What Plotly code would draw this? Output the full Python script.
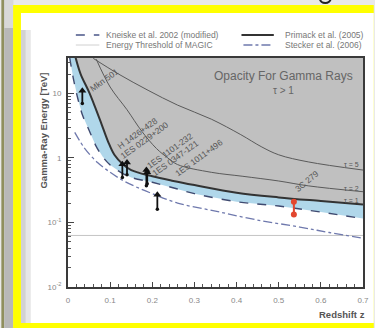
import math
import plotly.graph_objects as go

# ---------------- data ----------------
# Primack et al. (2005), tau = 1 horizon
primack_z = [0.018, 0.03, 0.05, 0.065, 0.08, 0.095, 0.11, 0.13, 0.15, 0.2, 0.25, 0.3, 0.4, 0.5, 0.6, 0.7]
primack_E = [36, 20, 10.5, 6.0, 3.3, 1.8, 1.12, 0.8, 0.65, 0.52, 0.44, 0.38, 0.29, 0.245, 0.215, 0.19]

# Kneiske et al. 2002 (modified)
kneiske_z = [0.004, 0.012, 0.024, 0.035, 0.05, 0.065, 0.082, 0.1, 0.125, 0.15, 0.2, 0.26, 0.3, 0.4, 0.5, 0.6, 0.7]
kneiske_E = [36, 18, 8.0, 4.5, 2.7, 1.6, 1.05, 0.78, 0.6, 0.5, 0.42, 0.33, 0.28, 0.21, 0.18, 0.145, 0.115]

# Stecker et al. (2006)
stecker_z = [0.016, 0.04, 0.07, 0.1, 0.13, 0.16, 0.2, 0.26, 0.35, 0.447, 0.55, 0.62, 0.7]
stecker_E = [2.5, 1.4, 0.85, 0.6, 0.45, 0.36, 0.28, 0.2, 0.15, 0.11, 0.085, 0.07, 0.057]

# tau = 5 and tau = 2 contours
tau5_z = [0.06, 0.12, 0.19, 0.26, 0.34, 0.41, 0.46, 0.5, 0.57, 0.7]
tau5_E = [35, 20, 11.2, 6.6, 4.0, 2.3, 1.48, 1.12, 0.87, 0.65]
tau2_z = [0.067, 0.1, 0.14, 0.175, 0.21, 0.237, 0.26, 0.34, 0.415, 0.5, 0.57, 0.7]
tau2_E = [34, 12.6, 5.6, 2.6, 1.4, 1.0, 0.79, 0.6, 0.52, 0.44, 0.37, 0.3]

# MAGIC energy threshold [TeV]
magic_threshold = 0.063

# observed sources: redshift, lower and upper energy of the arrows
source_names = ["Mkn 501", "H 1426+428", "1ES 0229+200", "1ES 1101-232", "1ES 0347-121", "1ES 1011+496"]
source_z = [0.034, 0.129, 0.14, 0.186, 0.188, 0.212]
source_lo = [7.0, 0.5, 0.55, 0.37, 0.4, 0.16]
source_hi = [11.0, 0.8, 0.85, 0.65, 0.6, 0.27]
# label anchor positions (z, E)
label_z = [0.086, 0.166, 0.182, 0.241, 0.255, 0.31]
label_E = [16, 2.44, 1.9, 1.28, 1.0, 1.0]

c279_name = "3C 279"
c279_z = 0.536
c279_E = [0.133, 0.21]
c279_label = (0.567, 0.44)

x_ticks = [0, 0.1, 0.2, 0.3, 0.4, 0.5, 0.6, 0.7]
x_ticktext = ["0", "0.1", "0.2", "0.3", "0.4", "0.5", "0.6", "0.7"]
y_ticks = [0.01, 0.1, 1, 10]
y_ticktext = ["10<sup>-2</sup>", "10<sup>-1</sup>", "1", "10"]

# ---------------- layout geometry ----------------
W, H = 375, 328
L, R, T, B = 68, 6, 58, 41
PW, PH = W - L - R, H - T - B


def px(x):
    return (x - L) / PW


def py(y):
    return (H - B - y) / PH


FONT = "Liberation Sans, Arial, sans-serif"
TOP = 100.0

fig = go.Figure()

# grey opacity region (tau > 1)
fig.add_trace(go.Scatter(
    x=primack_z + [primack_z[-1], primack_z[0]],
    y=primack_E + [TOP, TOP],
    fill="toself", fillcolor="#c0c0c0", line=dict(width=0),
    mode="lines", hoverinfo="skip", showlegend=False))

# blue band between Kneiske and Primack
fig.add_trace(go.Scatter(
    x=kneiske_z + primack_z[::-1],
    y=kneiske_E + primack_E[::-1],
    fill="toself", fillcolor="#b0d7ea", line=dict(width=0),
    mode="lines", hoverinfo="skip", showlegend=False))

# MAGIC threshold
fig.add_trace(go.Scatter(x=[0, 0.7], y=[magic_threshold, magic_threshold], mode="lines",
                         line=dict(color="#c4c4c4", width=1), showlegend=False))

# tau contours
fig.add_trace(go.Scatter(x=tau5_z, y=tau5_E, mode="lines", line=dict(color="#5a5a5a", width=1, shape="spline"),
                         showlegend=False))
fig.add_trace(go.Scatter(x=tau2_z, y=tau2_E, mode="lines", line=dict(color="#5a5a5a", width=1, shape="spline"),
                         showlegend=False))

# Stecker
fig.add_trace(go.Scatter(x=stecker_z, y=stecker_E, mode="lines",
                         line=dict(color="#6f79ad", width=1.3, dash="dashdot", shape="spline"), showlegend=False))
# Kneiske
fig.add_trace(go.Scatter(x=kneiske_z, y=kneiske_E, mode="lines",
                         line=dict(color="#3f4a70", width=1.4, dash="dash", shape="spline"), showlegend=False))
# Primack
fig.add_trace(go.Scatter(x=primack_z, y=primack_E, mode="lines",
                         line=dict(color="#333333", width=2, shape="spline"), showlegend=False))

# source arrows
seg_x, seg_y = [], []
for z, lo, hi in zip(source_z, source_lo, source_hi):
    seg_x += [z, z, None]
    seg_y += [lo, hi, None]
fig.add_trace(go.Scatter(x=seg_x, y=seg_y, mode="lines", line=dict(color="#111", width=1.8), showlegend=False))
fig.add_trace(go.Scatter(x=source_z, y=source_hi, mode="markers",
                         marker=dict(symbol="triangle-up", size=7, color="#111"), showlegend=False))
fig.add_trace(go.Scatter(x=source_z, y=source_lo, mode="markers",
                         marker=dict(symbol="circle", size=3.5, color="#111"), showlegend=False))

# 3C 279
fig.add_trace(go.Scatter(x=[c279_z, c279_z], y=c279_E, mode="lines+markers",
                         line=dict(color="#e2472f", width=2),
                         marker=dict(symbol="circle", size=6, color="#e2472f"), showlegend=False))


def note(x, y, text, size, color, xref="paper", yref="paper", xanchor="center", yanchor="middle", angle=0):
    return dict(x=x, y=y, xref=xref, yref=yref, text=text, showarrow=False, xanchor=xanchor, yanchor=yanchor,
                textangle=angle, font=dict(family=FONT, size=size, color=color))


ann = []
for name, z, e in zip(source_names, label_z, label_E):
    ann.append(note(z, math.log10(e), name, 8.5, "#555", xref="x", yref="y", angle=-36))
ann.append(note(c279_label[0], math.log10(c279_label[1]), c279_name, 8.5, "#555", xref="x", yref="y", angle=-40))

# tau labels
for t, yy in [("τ = 5", 164), ("τ = 2", 188), ("τ = 1", 200.5)]:
    ann.append(note(px(367), py(yy), t, 7, "#555", xanchor="right"))

ann.append(note(px(288), py(76), "Opacity For Gamma Rays", 12, "#666"))
ann.append(note(px(288), py(90), "τ > 1", 10, "#666"))

# legend texts
ann.append(note(px(105), py(35), "Kneiske et al. 2002 (modified)", 8.5, "#777", xanchor="left"))
ann.append(note(px(105), py(45), "Energy Threshold of MAGIC", 8.5, "#777", xanchor="left"))
ann.append(note(px(372), py(35), "Primack et al. (2005)", 8.5, "#777", xanchor="right"))
ann.append(note(px(370), py(45), "Stecker et al. (2006)", 8.5, "#777", xanchor="right"))

# axis titles
ann.append(note(px(42), py(131), "<b>Gamma-Ray Energy [TeV]</b>", 9.5, "#555", angle=-90))
ann.append(note(px(373), py(314), "<b>Redshift z</b>", 9.5, "#555", xanchor="right"))

shapes = []


def rect(x0, y0, x1, y1, color):
    shapes.append(dict(type="rect", xref="paper", yref="paper", x0=px(x0), x1=px(x1), y0=py(y0), y1=py(y1),
                       fillcolor=color, line=dict(width=0), layer="below"))


rect(0, 0, 3, 330, "#8f8f5e")
rect(3, 0, 12, 330, "#b8b8b8")
rect(3, 0, 12, 28, "#d8d8d8")
rect(12, 5, 380, 330, "#ffff00")
rect(20, 13, 380, 323, "#ffffff")
rect(20, 30, 25, 323, "#d2d2d2")
rect(25, 30, 30, 323, "#e6e6e6")

# fragment of the slide title letter above the frame
shapes.append(dict(type="circle", xref="paper", yref="paper", x0=px(325), x1=px(336), y0=py(-6), y1=py(3),
                   line=dict(color="#222", width=2), fillcolor="rgba(0,0,0,0)", layer="below"))


def hline(x0, x1, y, color, width, dash="solid"):
    shapes.append(dict(type="line", xref="paper", yref="paper", x0=px(x0), x1=px(x1), y0=py(y), y1=py(y),
                       line=dict(color=color, width=width, dash=dash)))


hline(76, 100, 35, "#4a5588", 1.4, "dash")
hline(76, 100, 45, "#d0d0d0", 1)
hline(245, 278, 35, "#333", 1.8)
hline(247, 277, 45, "#6f79ad", 1.3, "dashdot")

fig.update_layout(
    width=W, height=H,
    margin=dict(l=L, r=R, t=T, b=B, pad=0),
    paper_bgcolor="#e9e9e9",
    plot_bgcolor="rgba(0,0,0,0)",
    showlegend=False,
    annotations=ann,
    shapes=shapes,
    xaxis=dict(range=[0, 0.7], tickvals=x_ticks, ticktext=x_ticktext, ticks="inside", ticklen=5,
               tickcolor="#444", tickwidth=1, showgrid=False, zeroline=False, showline=True,
               linecolor="#3a3a3a", linewidth=2, mirror=True, ticklabelstandoff=4,
               tickfont=dict(family=FONT, size=8, color="#888"),
               minor=dict(tickvals=[i * 0.02 for i in range(36)], ticks="inside", ticklen=3,
                          tickcolor="#555", showgrid=False)),
    yaxis=dict(type="log", range=[-2, 1.55], tickvals=y_ticks, ticktext=y_ticktext, ticks="inside",
               ticklen=6, tickcolor="#444", showgrid=False, zeroline=False, showline=True,
               linecolor="#3a3a3a", linewidth=2, mirror=True, ticklabelstandoff=3,
               tickfont=dict(family=FONT, size=8, color="#888"),
               minor=dict(tickvals=[m * 10 ** d for d in range(-2, 2) for m in range(2, 10)],
                          ticks="inside", ticklen=3, tickcolor="#555", showgrid=False)),
)

fig.write_html("out.html")
